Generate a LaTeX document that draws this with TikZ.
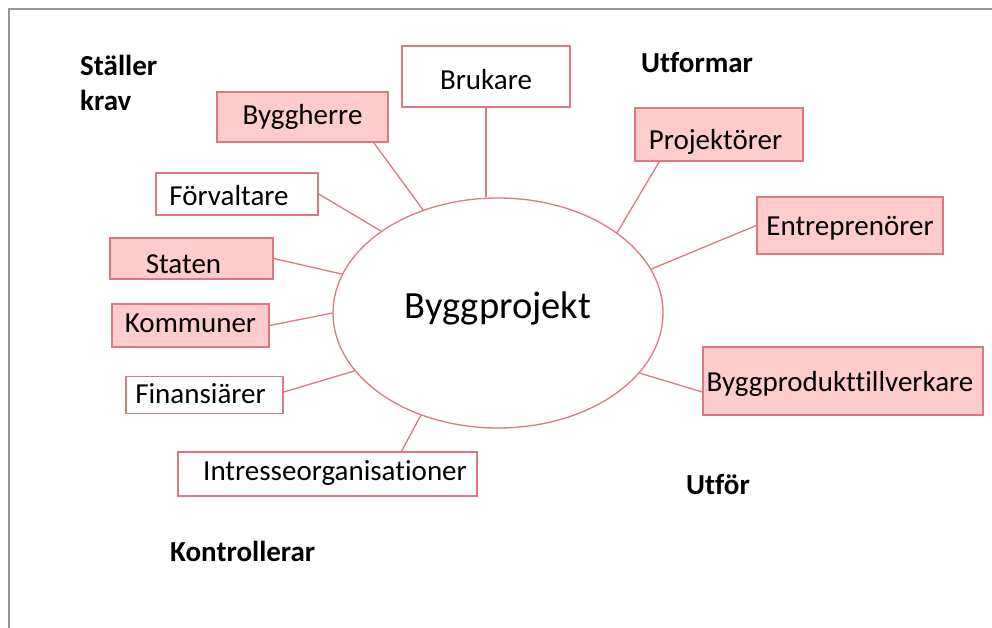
\documentclass[tikz,border=0pt]{standalone}
\usepackage{fontspec}
\setmainfont{Carlito}[Ligatures=NoCommon]
\usetikzlibrary{shapes.geometric,calc}
\definecolor{linec}{RGB}{218,122,126}
\definecolor{pinkc}{RGB}{255,204,204}
\definecolor{framec}{RGB}{150,150,150}
\tikzset{
  box/.style={draw=linec, line width=1.5pt, inner sep=0pt, text depth=6pt, font=\fontsize{29}{34}\selectfont},
  pinkbox/.style={box, fill=pinkc},
  whitebox/.style={box, fill=white},
  conn/.style={draw=linec, line width=1.3pt},
  lab/.style={font=\bfseries\fontsize{29}{35}\selectfont, inner sep=0pt},
}
\begin{document}
\begin{tikzpicture}[x=1pt,y=-1pt]
\useasboundingbox (0,0) rectangle (992,628);
\draw[framec, line width=2pt] (9,628) -- (9,9) -- (992,9);

\node[ellipse, draw=linec, line width=1.3pt, minimum width=330pt, minimum height=230pt, inner sep=0pt,
      text height=20pt, text depth=10pt, font=\fontsize{38.5}{44}\selectfont] (ell) at (498,313) {Byggprojekt};

\node[whitebox, minimum width=168pt, minimum height=61pt, text height=33pt] (brukare) at (486,76.5) {Brukare};
\node[pinkbox, minimum width=171pt, minimum height=50pt, text height=21pt] (byggherre) at (302.5,117) {Byggherre};
\node[whitebox, minimum width=162pt, minimum height=42pt, text height=30pt] (forvaltare) at (237,194) {Förvaltare\hspace*{16pt}};
\node[pinkbox, minimum width=163pt, minimum height=41pt, text height=34pt, text depth=5pt] (staten) at (191.5,258.5) {Staten\hspace*{16pt}};
\node[pinkbox, minimum width=157pt, minimum height=43pt, text height=19pt] (kommuner) at (190.5,325.5) {Kommuner};
\node[whitebox, minimum width=157pt, minimum height=37pt, text height=22pt] (finans) at (204.5,395) {Finansiärer\hspace*{8pt}};
\node[whitebox, minimum width=299pt, minimum height=44pt, text height=19pt] (intresse) at (327.5,474) {\hspace*{15pt}Intresseorganisationer};
\node[pinkbox, minimum width=168pt, minimum height=53pt, text height=36pt] (projekt) at (719,134.5) {Projektörer\hspace*{7pt}};
\node[pinkbox, minimum width=186pt, minimum height=57pt, text height=27pt] (entre) at (850,225.5) {Entreprenörer};
\node[pinkbox, minimum width=280pt, minimum height=68pt, text height=26pt] (byggprod) at (843,381) {Byggprodukttillverkare\hspace*{6pt}};

\draw[conn] (brukare.south) -- (brukare.south |- ell.north);
\draw[conn] ($(byggherre.south east)+(-15,0)$) -- (ell.126.3);
\draw[conn] (forvaltare.east) -- (ell.145.5);
\draw[conn] (staten.east) -- (ell.166.3);
\draw[conn] (kommuner.east) -- (ell.180.3);
\draw[conn] ($(finans.east)+(0,-3)$) -- (ell.202.9);
\draw[conn] ($(intresse.north)+(74,0)$) -- (ell.233.9);
\draw[conn] ($(projekt.south west)+(25,0)$) -- (ell.34.4);
\draw[conn] (entre.west) -- (ell.16);
\draw[conn] ($(byggprod.west)+(0,11)$) -- (ell.337.7);

\node[lab, align=left, anchor=north west] (staller) at (80,55) {Ställer\\krav};
\node[lab, anchor=base west] (utformar) at (641,73) {Utformar};
\node[lab, anchor=base west] (utfor) at (686,494) {Utför};
\node[lab, anchor=base west] (kontroll) at (170,561) {Kontrollerar};
\end{tikzpicture}
\end{document}
